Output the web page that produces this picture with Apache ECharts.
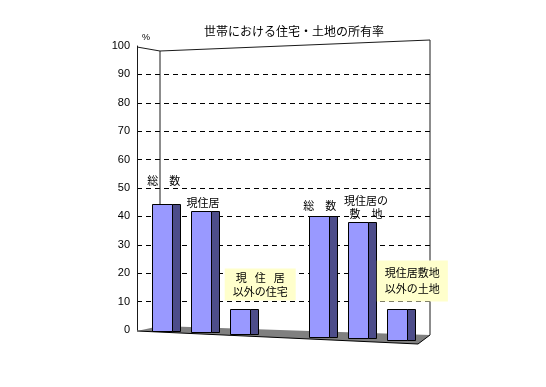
<!DOCTYPE html>
<html><head><meta charset="utf-8">
<script src="https://cdn.jsdelivr.net/npm/echarts@6/dist/echarts.min.js"></script>
<style>html,body{margin:0;padding:0;background:#fff}#c{width:546px;height:387px}</style>
</head><body><div id="c"></div>
<script>
// ---- data ----
const titleText = '世帯における住宅・土地の所有率';
const unitText = '%';
const categories = ['総数(住宅)', '現住居', '現住居以外の住宅', '', '総数(土地)', '現住居の敷地', '現住居敷地以外の土地'];
const values = [44.8, 42.8, 8.6, null, 42.6, 40.8, 10.8];
const barLabels = ['総　数', '現住居', '現 \u2002住 \u2002居\n以外の住宅', '', '総　数', '現住居の\n敷　地', '現住居敷地\n以外の土地'];
const yTicks = [0, 10, 20, 30, 40, 50, 60, 70, 80, 90, 100];

// ---- label styling (offsets from bar top centre) ----
const labelStyle = [
  { dx: 2, dy: -23 },
  { dx: 2, dy: -8 },
  { dx: 20, dy: -25, box: true, pad: [2, 8], lh: 14 },
  null,
  { dx: 1, dy: -10 },
  { dx: 8, dy: -15, lh: 13 },
  { dx: 15, dy: -28, box: true, pad: [5, 8], lh: 15.5 }
];

const FONT_JP = '"Noto Sans CJK JP", sans-serif';
const chart = echarts.init(document.getElementById('c'), null, { renderer: 'canvas' });

const barData = [];
values.forEach((v, i) => { if (v != null) barData.push([i, v]); });

function renderFrame(params, api) {
  const cs = params.coordSys;
  const x0 = cs.x, y0 = cs.y, x1 = cs.x + cs.width, yb = cs.y + cs.height;
  const ln = { stroke: '#1a1a1a', lineWidth: 1, fill: null };
  return {
    type: 'group',
    children: [
      { type: 'polygon', shape: { points: [[x0, yb + 1], [x0 + 23, yb - 4], [x1, yb + 5], [x1 - 12, yb + 14]] },
        style: { fill: '#808080' } },
      { type: 'polyline', shape: { points: [[x0, yb + 1], [x1 - 12, yb + 14], [x1, yb + 5]] }, style: { stroke: '#000', lineWidth: 1, fill: null } },
      { type: 'polyline', shape: { points: [[x0, y0 + 1], [x0 + 23, y0 + 5], [x1, y0 - 6]] }, style: ln },
      { type: 'line', shape: { x1: x0 + 23, y1: y0 + 5, x2: x0 + 23, y2: yb - 4 }, style: ln },
      { type: 'line', shape: { x1: x1, y1: y0 - 6, x2: x1, y2: yb + 5 }, style: ln }
    ]
  };
}

function renderBar(params, api) {
  const cs = params.coordSys;
  const idx = api.value(0);
  const v = api.value(1);
  const base = api.coord([idx, 0]);
  const top = api.coord([idx, v]);
  const cx = base[0];
  const drop = (cx - (cs.x - 5)) * 0.037;
  const w = 20, d = 8;
  const xL = Math.round(cx - w / 2) + 0.5;
  const yT = Math.round(top[1] + drop) + 0.5;
  const yB = Math.round(base[1] + drop) + 0.5;
  const children = [
    { type: 'rect', shape: { x: xL + w, y: yT, width: d, height: yB - yT }, style: { fill: '#4D4D8A', stroke: '#000', lineWidth: 1 } },
    { type: 'rect', shape: { x: xL, y: yT, width: w, height: yB - yT }, style: { fill: '#9999FF', stroke: '#000', lineWidth: 1 } }
  ];
  const ls = labelStyle[idx];
  if (ls) {
    const st = {
      text: barLabels[idx],
      font: '11px ' + FONT_JP,
      fill: '#000',
      align: 'center',
      verticalAlign: 'middle',
      lineHeight: ls.lh || 14
    };
    if (ls.box) { st.backgroundColor = '#FFFFCC'; st.padding = ls.pad; }
    children.push({ type: 'text', x: cx + ls.dx, y: top[1] + drop + ls.dy, style: st, z2: 10 });
  }
  return { type: 'group', children };
}

const option = {
  backgroundColor: '#ffffff',
  animation: false,
  title: {
    text: titleText, left: 289, top: 20, textAlign: 'center',
    textStyle: { fontFamily: FONT_JP, fontSize: 12, fontWeight: 'normal', color: '#000' }
  },
  graphic: [{ type: 'text', left: 142, top: 33, style: { text: unitText, font: '9px "Liberation Sans", Arial, sans-serif', fill: '#000' } }],
  grid: [
    { left: 137, right: 116, top: 46, bottom: 57 },
    { left: 142, right: 129, top: 46, bottom: 57 }
  ],
  xAxis: [
    { type: 'category', gridIndex: 0, data: ['f'], show: false },
    { type: 'category', gridIndex: 1, data: categories, show: false }
  ],
  yAxis: [
    { type: 'value', gridIndex: 0, min: yTicks[0], max: yTicks[yTicks.length - 1], interval: 10,
      axisLine: { show: true, lineStyle: { color: '#1a1a1a', width: 1 } },
      axisTick: { show: false },
      axisLabel: { margin: 7, fontSize: 11, color: '#000', fontFamily: '"Liberation Sans", Arial, sans-serif' },
      splitLine: { show: true, showMinLine: false, showMaxLine: false, lineStyle: { color: '#000', type: [5, 4], width: 1 } } },
    { type: 'value', gridIndex: 1, min: 0, max: 100, show: false, splitLine: { show: false } }
  ],
  series: [
    { type: 'custom', xAxisIndex: 0, yAxisIndex: 0, z: 1, data: [[0, 0]], renderItem: renderFrame, silent: true },
    { type: 'custom', xAxisIndex: 1, yAxisIndex: 1, z: 3, data: barData, renderItem: renderBar,
      encode: { x: 0, y: 1 } }
  ]
};
chart.setOption(option);
</script>
</body></html>
